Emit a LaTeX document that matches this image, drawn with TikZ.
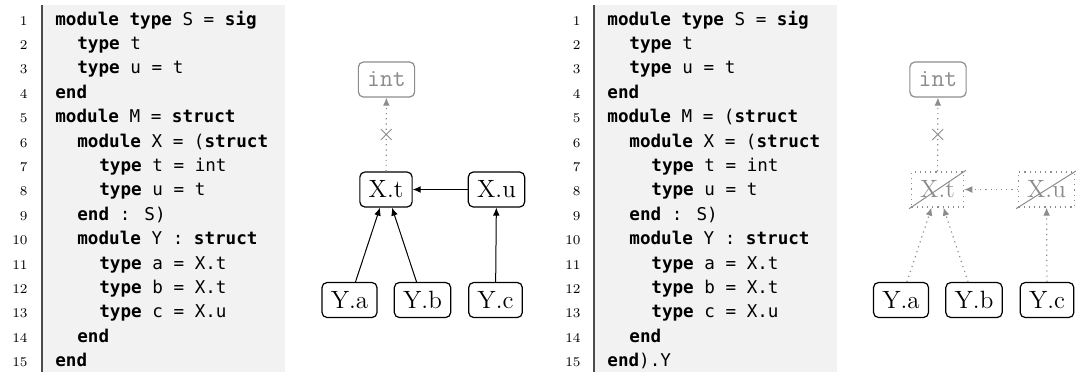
\documentclass[tikz,border=0pt]{standalone}
\usepackage{fontspec}
\newfontfamily\codefont{DejaVu Sans Mono}
\usetikzlibrary{arrows.meta,shapes.misc}
\newcommand\kw[1]{\textbf{#1}}
\colorlet{faded}{black!45}
\begin{document}
\begin{tikzpicture}[x=0.5pt,y=-0.5pt,
  codeline/.style={anchor=base west, inner sep=0pt, font=\codefont\fontsize{8.8}{10}\selectfont},
  lnum/.style={anchor=base east, inner sep=0pt, font=\fontsize{6.7}{8}\selectfont},
  panel/.style={fill=black!5, draw=none},
  rulebar/.style={draw=black!70, line width=0.6pt},
  tbox/.style={draw, rounded corners=2.5pt, inner xsep=4.4pt, inner ysep=0pt, minimum height=17.5pt, font=\fontsize{12.5}{14}\selectfont, line width=0.6pt},
  gbox/.style={tbox, draw=faded, text=faded},
  dbox/.style={draw=faded, dotted, text=faded, rounded corners=0pt, inner xsep=4.4pt, inner ysep=0pt, minimum height=17.5pt, font=\fontsize{12.5}{14}\selectfont, line width=0.6pt},
  arr/.style={-{Latex[length=4pt,width=3.4pt]}, line width=0.5pt},
  garr/.style={-{Latex[length=4pt,width=3.4pt]}, draw=faded, dotted, line width=0.6pt},
  xmark/.style={cross out, draw=faded, solid, minimum size=5pt, inner sep=0pt, line width=0.4pt},
  strike/.style={draw=faded, line width=0.5pt, shorten <=-1pt, shorten >=-1pt}
]
\useasboundingbox (0,0) rectangle (1076,372);

% ---------- left code panel ----------
\fill[panel] (42,5) rectangle (285,372);
\draw[rulebar] (42,5) -- (42,372);
\foreach \n/\ind/\txt in {
  1/0/{\kw{module type} S = \kw{sig}},
  2/1/{\kw{type} t},
  3/1/{\kw{type} u = t},
  4/0/{\kw{end}},
  5/0/{\kw{module} M = \kw{struct}},
  6/1/{\kw{module} X = (\kw{struct}},
  7/2/{\kw{type} t = int},
  8/2/{\kw{type} u = t},
  9/1/{\kw{end} : S)},
  10/1/{\kw{module} Y : \kw{struct}},
  11/2/{\kw{type} a = X.t},
  12/2/{\kw{type} b = X.t},
  13/2/{\kw{type} c = X.u},
  14/1/{\kw{end}},
  15/0/{\kw{end}}}{
  \node[lnum] (na\n) at (28,{25+24.4*(\n-1)}) {\n};
  \node[codeline] (la\n) at ({55+22*\ind},{25+24.4*(\n-1)}) {\txt};
}

% ---------- right code panel ----------
\fill[panel] (594,5) rectangle (837,372);
\draw[rulebar] (594,5) -- (594,372);
\foreach \n/\ind/\txt in {
  1/0/{\kw{module type} S = \kw{sig}},
  2/1/{\kw{type} t},
  3/1/{\kw{type} u = t},
  4/0/{\kw{end}},
  5/0/{\kw{module} M = (\kw{struct}},
  6/1/{\kw{module} X = (\kw{struct}},
  7/2/{\kw{type} t = int},
  8/2/{\kw{type} u = t},
  9/1/{\kw{end} : S)},
  10/1/{\kw{module} Y : \kw{struct}},
  11/2/{\kw{type} a = X.t},
  12/2/{\kw{type} b = X.t},
  13/2/{\kw{type} c = X.u},
  14/1/{\kw{end}},
  15/0/{\kw{end}).Y}}{
  \node[lnum] (nb\n) at (581,{25+24.4*(\n-1)}) {\n};
  \node[codeline] (lb\n) at ({607+22*\ind},{25+24.4*(\n-1)}) {\txt};
}

% ---------- left graph ----------
\node[gbox] (int) at (386.5,79.5) {\ttfamily int};
\node[tbox] (xt) at (386,189.5) {X.t};
\node[tbox] (xu) at (496.5,189.5) {X.u};
\node[tbox] (ya) at (349.5,300) {Y.a};
\node[tbox] (yb) at (422.5,300) {Y.b};
\node[tbox] (yc) at (495.5,300) {Y.c};
\draw[garr] (xt) -- node[xmark] (c1) {} (int);
\draw[arr] (xu) -- (xt);
\draw[arr] (ya) -- (xt);
\draw[arr] (yb) -- (xt);
\draw[arr] (yc) -- (xu);

% ---------- right graph ----------
\node[gbox] (int2) at (938,79.5) {\ttfamily int};
\node[dbox] (xt2) at (937.5,189.5) {X.t};
\node[dbox] (xu2) at (1046.5,189.5) {X.u};
\node[tbox] (ya2) at (901,300) {Y.a};
\node[tbox] (yb2) at (974,300) {Y.b};
\node[tbox] (yc2) at (1047,300) {Y.c};
\draw[strike] (xt2.south west) -- (xt2.north east);
\draw[strike] (xu2.south west) -- (xu2.north east);
\draw[garr] (xt2) -- node[xmark] (c2) {} (int2);
\draw[garr] (xu2) -- (xt2);
\draw[garr] (ya2) -- (xt2);
\draw[garr] (yb2) -- (xt2);
\draw[garr] (yc2) -- (xu2);
\end{tikzpicture}
\end{document}
